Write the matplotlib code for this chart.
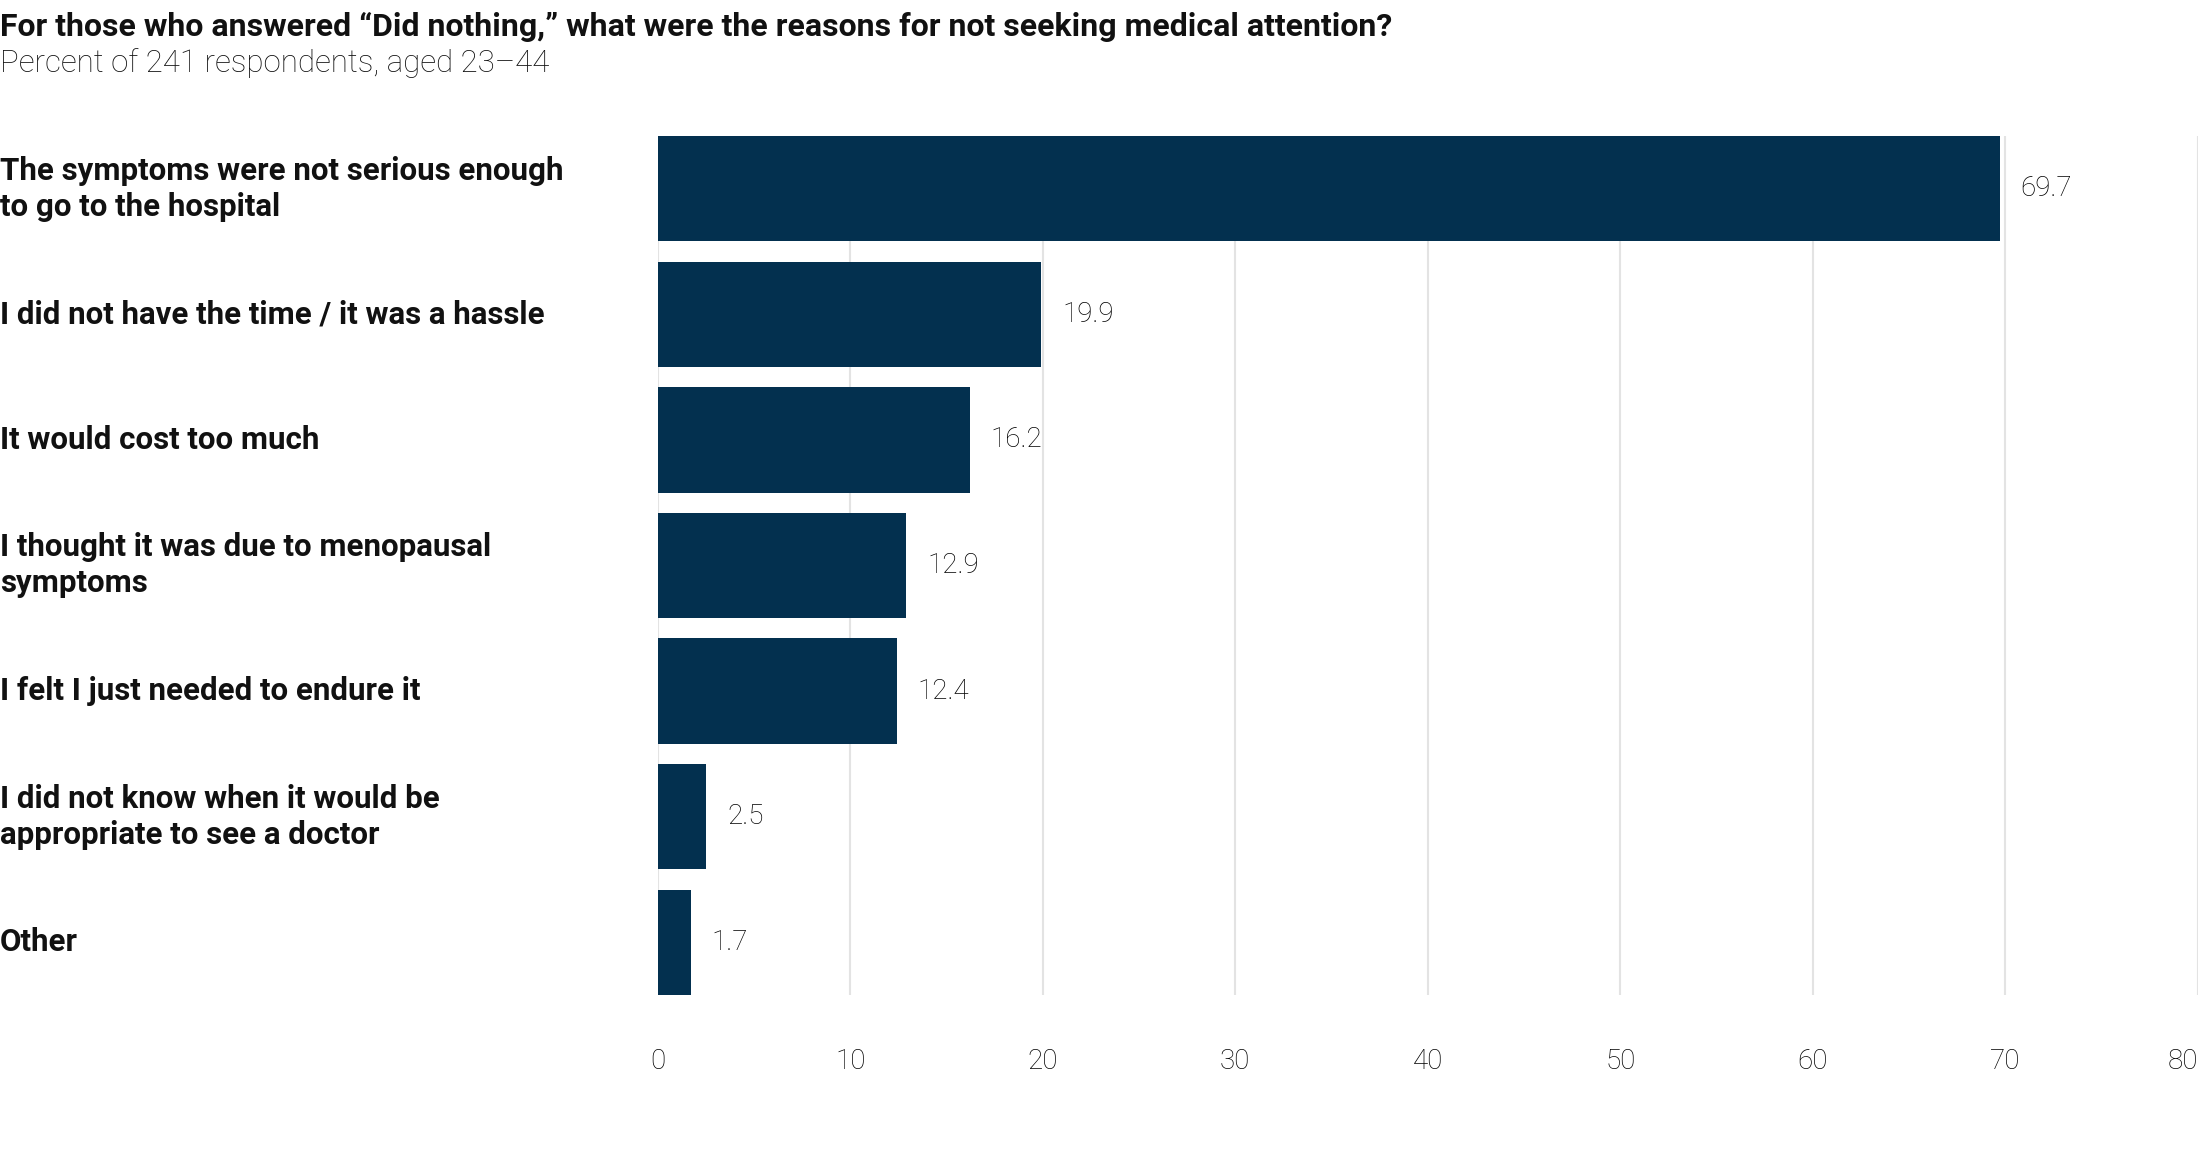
import matplotlib.pyplot as plt
from matplotlib import transforms

title = "For those who answered \u201cDid nothing,\u201d what were the reasons for not seeking medical attention?"
subtitle = "Percent of 241 respondents, aged 23\u201344"
categories = [
    "The symptoms were not serious enough\nto go to the hospital",
    "I did not have the time / it was a hassle",
    "It would cost too much",
    "I thought it was due to menopausal\nsymptoms",
    "I felt I just needed to endure it",
    "I did not know when it would be\nappropriate to see a doctor",
    "Other",
]
values = [69.7, 19.9, 16.2, 12.9, 12.4, 2.5, 1.7]
xticks = [0, 10, 20, 30, 40, 50, 60, 70, 80]

plt.rcParams["font.family"] = ["Roboto", "DejaVu Sans"]

bar_color = "#03304f"
text_color = "#111111"
bar_h = 0.84

fig = plt.figure(figsize=(22, 11.72), dpi=100)
ax = fig.add_axes([0.299, 0.151, 0.7, 0.733])

pos = list(range(len(values)))
ax.barh(pos, values, height=bar_h, color=bar_color, zorder=2)
ax.set_ylim(len(values) - 1 + bar_h / 2, -bar_h / 2)
ax.set_xlim(0, 80)

for p, v in zip(pos, values):
    ax.text(v + 1.1, p, f"{v:.1f}", va="center", ha="left",
            fontsize=20, fontweight="light", color="#000000")

ax.set_xticks(xticks)
ax.set_xticklabels([str(t) for t in xticks], fontsize=20, fontweight="light", color="#000000")
# last label is pinned to the right edge so it is not clipped
ax.get_xticklabels()[-1].set_horizontalalignment("right")
ax.tick_params(axis="x", length=0, pad=38)
ax.set_yticks([])
ax.grid(axis="x", color="#e3e3e3", linewidth=1.5, zorder=0)
for s in ax.spines.values():
    s.set_visible(False)

# category labels sit at the figure's left edge, aligned with each bar
label_tr = transforms.blended_transform_factory(fig.transFigure, ax.transData)
for p, label in zip(pos, categories):
    ax.text(0.0, p, label, transform=label_tr, va="center", ha="left",
            fontsize=22.5, fontweight="bold", color=text_color, linespacing=1.25)

fig.text(0.0, 0.977, title, fontsize=23, fontweight="bold", color=text_color, va="center", ha="left")
fig.text(0.0, 0.946, subtitle, fontsize=22.5, fontweight="light", color=text_color, va="center", ha="left")

fig.savefig("out.png", dpi=100)
